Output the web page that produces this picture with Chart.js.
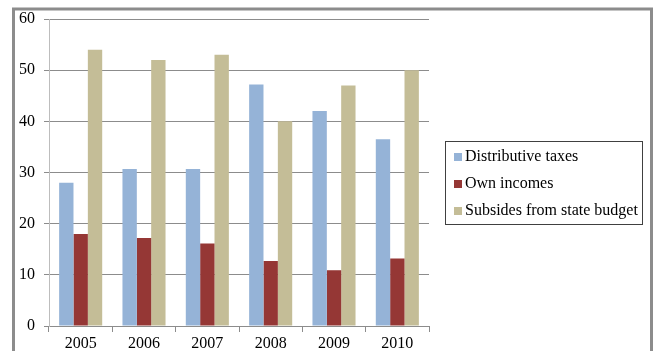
<!DOCTYPE html>
<html>
<head>
<meta charset="utf-8">
<script src="https://cdn.jsdelivr.net/npm/chart.js@4"></script>
<style>
  body { margin: 0; background: #fff; }
  #wrap { width: 659px; height: 351px; }
</style>
</head>
<body>
<div id="wrap"><canvas id="budgetChart" width="659" height="351"></canvas></div>
<script>
// data
const years = ['2005', '2006', '2007', '2008', '2009', '2010'];
const distributiveTaxes = [28, 30.7, 30.7, 47.2, 42, 36.5];
const ownIncomes = [18, 17.2, 16.1, 12.7, 10.9, 13.2];
const stateSubsides = [54, 52, 53, 40, 47, 50];
const yTicks = [0, 10, 20, 30, 40, 50, 60];

const serif = 'Liberation Serif, Times New Roman, serif';

// outer frame of the picture
const framePlugin = {
    id: 'frame',
    afterDraw(chart) {
        const ctx = chart.ctx;
        ctx.save();
        ctx.strokeStyle = '#8c8c8c';
        ctx.lineWidth = 3;
        ctx.beginPath();
        ctx.moveTo(13.5, 360);
        ctx.lineTo(13.5, 9);
        ctx.lineTo(651.5, 9);
        ctx.lineTo(651.5, 360);
        ctx.stroke();
        ctx.restore();
    }
};

// boxed legend on the right, built from the datasets
const boxLegend = {
    id: 'boxLegend',
    afterDraw(chart) {
        const ctx = chart.ctx;
        const x = 445.5, y = 141.5, w = 197, h = 83;
        ctx.save();
        ctx.strokeStyle = '#404040';
        ctx.lineWidth = 1;
        ctx.strokeRect(x, y, w, h);
        ctx.font = '16px ' + serif;
        ctx.textBaseline = 'middle';
        chart.data.datasets.forEach((ds, i) => {
            const cy = 157 + i * 27;
            ctx.fillStyle = ds.backgroundColor;
            ctx.fillRect(454, cy - 4, 8, 8);
            ctx.fillStyle = '#000';
            ctx.fillText(ds.label, 465, cy);
        });
        ctx.restore();
    }
};

const ctx = document.getElementById('budgetChart').getContext('2d');

const budgetChart = new Chart(ctx, {
    type: 'bar',
    data: {
        labels: years,
        datasets: [
            { label: 'Distributive taxes', data: distributiveTaxes, backgroundColor: '#95B3D7' },
            { label: 'Own incomes', data: ownIncomes, backgroundColor: '#953735' },
            { label: 'Subsides from state budget', data: stateSubsides, backgroundColor: '#C4BD97' }
        ]
    },
    options: {
        responsive: false,
        animation: false,
        layout: { padding: { top: 19, right: 230, bottom: 0, left: 0 } },
        datasets: {
            bar: { categoryPercentage: 0.68, barPercentage: 1 }
        },
        plugins: {
            legend: { display: false },
            tooltip: { enabled: false }
        },
        scales: {
            x: {
                offset: true,
                grid: { offset: true, drawOnChartArea: false, color: '#8c8c8c', tickLength: 6 },
                border: { color: '#8c8c8c' },
                ticks: { color: '#000', font: { family: serif, size: 16 }, padding: 2 },
                afterFit(scale) { scale.height = 25; }
            },
            y: {
                min: 0,
                max: 60,
                afterBuildTicks(scale) { scale.ticks = yTicks.map(v => ({ value: v })); },
                grid: { color: '#8c8c8c', tickLength: 5 },
                border: { color: '#bdbdbd' },
                ticks: { color: '#000', font: { family: serif, size: 16 }, padding: 9 },
                afterFit(scale) { scale.width = 49; }
            }
        }
    },
    plugins: [framePlugin, boxLegend]
});
</script>
</body>
</html>
